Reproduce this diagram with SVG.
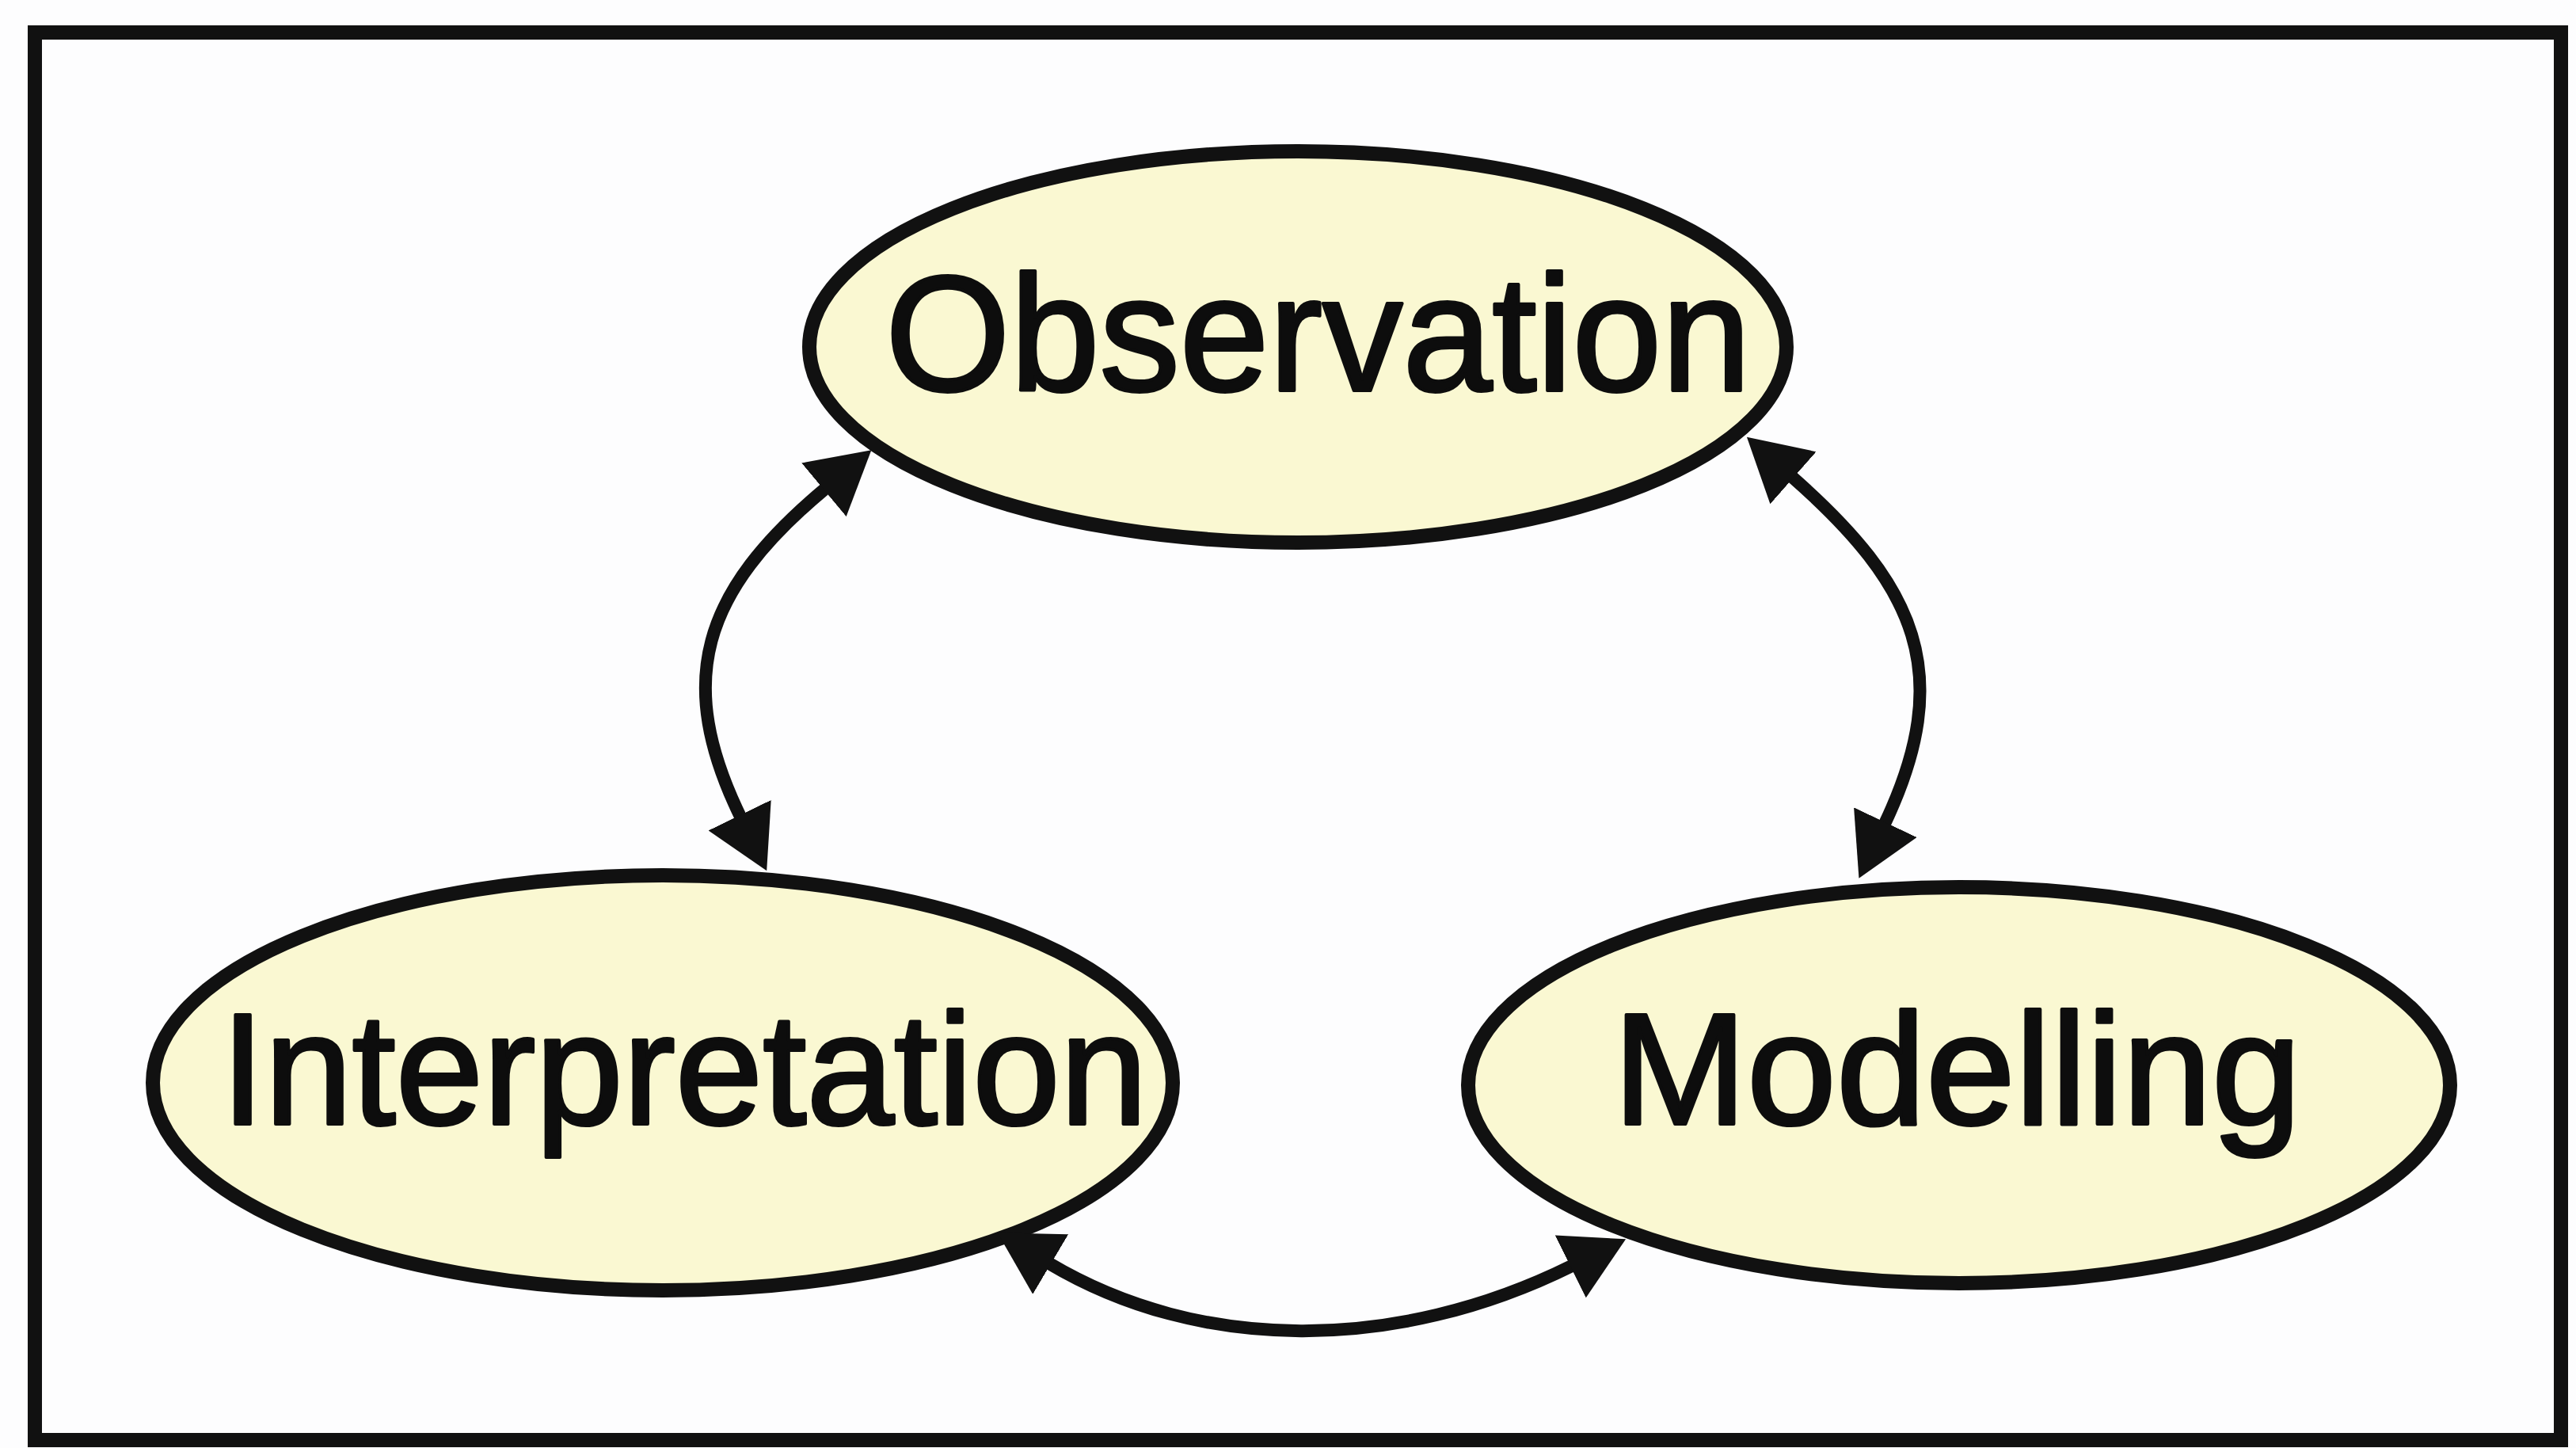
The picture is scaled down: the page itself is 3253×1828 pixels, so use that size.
<svg xmlns="http://www.w3.org/2000/svg" width="3253" height="1828" viewBox="0 0 3253 1828">
  <style>
    .node ellipse { fill: #FAF8D2; stroke: #111111; stroke-width: 18; }
    .node text { font-family: "Liberation Sans", Arial, sans-serif; fill: #0d0d0d; stroke: #0d0d0d; stroke-width: 4; stroke-linejoin: round; }
    .conn path { fill: none; stroke: #111111; stroke-width: 16; stroke-linecap: round; }
  </style>
  <defs>
    <marker id="head" markerUnits="userSpaceOnUse" markerWidth="78" markerHeight="88" viewBox="0 0 78 88" refX="2" refY="44" orient="auto-start-reverse">
      <path d="M0,0 L78,44 L0,88 Z" fill="#111111"/>
    </marker>
  </defs>
  <rect x="0" y="0" width="3253" height="1828" fill="#FDFDFE"/>
  <rect id="frame" x="44" y="41" width="3190" height="1777" fill="none" stroke="#111111" stroke-width="18"/>

  <g id="observation" class="node">
    <ellipse cx="1639" cy="438" rx="617" ry="247"/>
    <text x="1118" y="493" font-size="207" textLength="1093" lengthAdjust="spacingAndGlyphs">Observation</text>
  </g>
  <g id="interpretation" class="node">
    <ellipse cx="837" cy="1367" rx="644" ry="262"/>
    <text x="279" y="1419" font-size="200" textLength="1170" lengthAdjust="spacingAndGlyphs">Interpretation</text>
  </g>
  <g id="modelling" class="node">
    <ellipse cx="2474" cy="1370" rx="620" ry="250"/>
    <text x="2037" y="1419" font-size="200" textLength="869" lengthAdjust="spacingAndGlyphs">Modelling</text>
  </g>

  <g id="connectors" class="conn">
    <path d="M1042,617 C885,748 852,860 935,1031" marker-start="url(#head)" marker-end="url(#head)"/>
    <path d="M2263,602 C2420,740 2470,850 2380,1040" marker-start="url(#head)" marker-end="url(#head)"/>
    <path d="M1325,1595 C1515,1708 1763,1708 1985,1598" marker-start="url(#head)" marker-end="url(#head)"/>
  </g>
</svg>
